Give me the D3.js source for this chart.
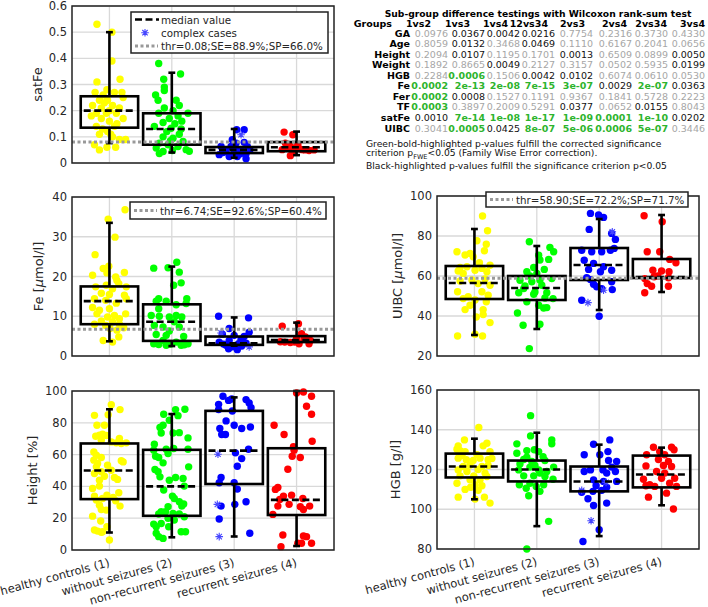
<!DOCTYPE html>
<html>
<head>
<meta charset="utf-8">
<title>iron parameters by group</title>
<style>
  body { margin: 0; background: #fff; }
  svg { font-family: "DejaVu Sans", sans-serif; }
  .grid line { stroke: #d9d9d9; stroke-width: 1.3; }
  .tick-lbl { font-size: 11.5px; fill: #262626; }
  .leg-lbl { font-size: 10.3px; fill: #262626; }
  .ax-lbl { font-size: 13px; fill: #262626; }
  .tbl { font-size: 9.5px; }
</style>
</head>
<body>
<div id="chart"></div>
<script src="https://cdn.jsdelivr.net/npm/d3@7"></script>
<script>

// groups shared by all panels
var groups = ["healthy controls (1)", "without seizures (2)", "non-recurrent seizures (3)", "recurrent seizures (4)"];
var groupColors = ["#ffff00", "#00ff00", "#0000ff", "#ff0000"];

// points are [jitter in category units, value]; boxes are [low whisker, q1, median, q3, high whisker]
var satFeTicks = [0, 0.1, 0.2, 0.3, 0.4, 0.5, 0.6];
var satFePts = [
  [[-0.20,0.53],[0.04,0.50],[0.04,0.39],[-0.20,0.31],[0.17,0.32],[-0.23,0.27],[-0.04,0.28],[0.08,0.27],[0.20,0.27],[0.22,0.25],[-0.16,0.24],[-0.03,0.24],[-0.27,0.22],[-0.13,0.21],[0.05,0.22],[0.16,0.21],[-0.21,0.19],[-0.05,0.19],[0.11,0.19],[-0.29,0.18],[0.22,0.17],[-0.13,0.17],[0.00,0.16],[-0.21,0.14],[0.08,0.14],[-0.11,0.13],[-0.03,0.12],[-0.16,0.11],[0.05,0.10],[0.16,0.09],[0.26,0.09],[-0.24,0.07],[-0.04,0.06],[-0.16,0.05],[0.10,0.06],[0.00,0.20],[-0.08,0.23],[0.12,0.15],[-0.10,0.26],[0.02,0.11]],
  [[-0.21,0.38],[-0.13,0.32],[0.14,0.34],[-0.12,0.29],[-0.12,0.277],[-0.26,0.26],[-0.22,0.24],[0.07,0.24],[0.12,0.22],[-0.12,0.21],[0.02,0.20],[0.26,0.19],[-0.21,0.19],[-0.04,0.17],[0.10,0.18],[-0.14,0.155],[0.16,0.16],[-0.28,0.14],[-0.01,0.133],[0.15,0.13],[-0.14,0.10],[0.02,0.095],[0.18,0.082],[-0.20,0.076],[-0.06,0.07],[0.10,0.063],[-0.25,0.057],[0.23,0.051],[0.01,0.048],[-0.14,0.044],[0.28,0.045],[-0.20,0.036],[0.05,0.15],[-0.08,0.12],[0.12,0.11],[-0.02,0.085]],
  [[0.04,0.127],[0.16,0.127],[-0.03,0.089],[0.03,0.076],[0.16,0.079],[-0.21,0.063],[-0.05,0.063],[0.21,0.063],[0.08,0.051],[-0.13,0.044],[0.00,0.038],[-0.24,0.032],[0.19,0.035],[-0.08,0.025],[0.05,0.025],[0.19,0.016],[-0.16,0.05],[0.12,0.045],[-0.02,0.055],[0.10,0.035],[-0.18,0.04],[0.25,0.05]],
  [[-0.20,0.118],[-0.06,0.108],[-0.18,0.076],[-0.10,0.063],[-0.23,0.051],[-0.04,0.057],[0.09,0.051],[0.20,0.048],[-0.10,0.028],[0.04,0.055],[-0.14,0.06],[0.02,0.07],[0.13,0.05],[-0.06,0.045],[0.28,0.05]]
];
var satFeStars = [[3, 0.11, 0.108]];
var satFeBox = [[0.076,0.135,0.20,0.255,0.50],[0.04,0.07,0.13,0.19,0.345],[0.02,0.038,0.05,0.061,0.13],[0.03,0.045,0.06,0.08,0.12]];
var satFeThr = 0.08;

var feTicks = [0, 10, 20, 30, 40];
var fePts = [
  [[0.25,36.8],[-0.02,34.4],[0.09,29.9],[-0.23,25.5],[-0.01,22.6],[-0.10,22.0],[0.24,21.0],[-0.04,20.9],[-0.27,20.3],[0.10,19.9],[0.12,19.0],[0.15,18.2],[-0.22,17.4],[-0.05,17.8],[0.05,16.9],[0.27,17.4],[-0.13,15.8],[0.00,15.5],[0.24,15.3],[-0.24,14.4],[-0.06,14.0],[0.11,13.3],[0.27,14.4],[-0.27,12.2],[-0.16,11.5],[0.00,11.9],[-0.20,10.6],[0.26,10.6],[0.08,10.2],[-0.03,9.8],[0.16,9.4],[-0.13,8.8],[0.05,8.6],[0.16,8.0],[-0.24,8.0],[-0.06,7.7],[0.23,7.1],[0.12,6.5],[0.01,6.9],[0.15,4.8],[-0.10,3.9],[0.05,3.5]],
  [[0.08,23.6],[-0.29,22.1],[-0.06,22.2],[0.12,21.1],[0.15,18.4],[0.03,17.8],[-0.21,14.4],[0.24,14.4],[-0.25,13.8],[-0.09,13.8],[0.07,12.9],[0.23,13.2],[-0.21,11.9],[-0.33,10.2],[-0.20,10.0],[-0.04,9.8],[0.07,10.2],[0.16,9.8],[0.04,8.6],[-0.28,7.7],[-0.14,7.3],[0.12,7.3],[-0.04,6.3],[-0.25,5.4],[-0.09,5.2],[0.19,4.9],[-0.29,3.1],[-0.21,2.9],[-0.09,2.7],[0.07,3.5],[0.15,2.7],[0.26,3.1],[-0.14,3.9],[0.20,2.8],[-0.02,3.0]],
  [[-0.25,10.0],[0.23,9.6],[-0.08,6.9],[0.24,6.0],[-0.19,5.5],[0.00,5.2],[0.16,4.9],[0.11,4.2],[-0.08,3.9],[-0.24,3.5],[0.07,3.1],[-0.13,2.7],[-0.03,2.3],[0.19,3.2],[0.05,1.6],[-0.09,1.8],[0.12,2.5],[-0.17,3.0]],
  [[-0.23,7.5],[0.03,8.1],[-0.19,3.5],[-0.26,3.6],[0.00,4.4],[0.08,5.6],[0.14,4.8],[0.22,3.9],[-0.03,3.5],[0.04,3.1],[0.20,3.1],[0.12,4.2],[-0.10,3.4]]
];
var feStars = [[3, -0.21, 5.8], [3, 0.24, 2.3]];
var feBox = [[3.7,8.0,13.8,17.5,33.5],[2.5,3.8,8.6,13.0,22.5],[2.6,2.8,3.2,4.9,9.7],[3.5,3.5,4.0,5.0,8.4]];
var feThr = 6.74;

var heightTicks = [0, 20, 40, 60, 80, 100];
var heightPts = [
  [[0.03,91.4],[0.17,88.3],[-0.24,84.7],[-0.02,85.1],[-0.20,78.5],[-0.08,78.5],[-0.22,71.5],[-0.16,72.2],[-0.11,72.8],[-0.05,72.0],[-0.13,69.0],[0.16,70.1],[0.03,68.0],[0.11,67.4],[0.27,67.4],[0.19,67.0],[-0.25,61.7],[-0.21,59.6],[-0.13,58.2],[-0.25,56.5],[-0.19,54.4],[-0.21,52.3],[-0.03,53.3],[0.19,56.1],[0.22,55.4],[-0.24,48.1],[-0.13,49.2],[0.03,50.2],[0.08,45.6],[0.13,44.4],[-0.16,43.9],[-0.08,46.4],[-0.27,38.7],[-0.16,40.2],[0.15,36.0],[-0.24,33.9],[-0.04,34.5],[0.06,33.1],[-0.21,31.4],[-0.11,32.4],[0.10,31.0],[-0.16,28.2],[0.17,27.6],[-0.13,25.5],[-0.05,25.1],[-0.27,21.3],[-0.14,18.2],[-0.24,12.6],[-0.19,11.9],[-0.11,11.5],[-0.04,14.6],[-0.13,11.1],[0.00,6.3]],
  [[0.06,88.3],[0.21,88.5],[-0.13,85.4],[0.10,84.5],[-0.04,81.6],[-0.14,78.5],[-0.19,77.0],[-0.17,73.6],[0.02,73.6],[0.12,73.8],[0.26,70.5],[-0.28,66.5],[-0.29,62.8],[-0.09,63.4],[0.03,63.8],[0.26,63.4],[-0.26,59.0],[-0.21,58.2],[-0.06,60.7],[-0.14,54.8],[0.27,52.3],[-0.27,50.6],[-0.22,49.2],[-0.19,46.0],[-0.04,43.9],[0.06,45.6],[0.18,45.0],[0.20,40.2],[-0.13,37.7],[0.01,33.9],[0.04,32.4],[0.12,30.3],[0.19,28.9],[0.16,27.6],[-0.06,27.2],[-0.17,24.1],[-0.10,24.1],[0.02,23.0],[-0.21,22.6],[0.12,22.6],[0.20,20.9],[-0.06,19.9],[0.04,18.8],[-0.29,16.3],[-0.17,16.7],[-0.25,14.6],[-0.05,14.6],[0.15,11.5],[0.22,11.5],[-0.25,10.5],[-0.21,8.4],[-0.14,7.3]],
  [[-0.18,96.7],[-0.09,94.1],[-0.04,95.0],[0.19,94.6],[0.24,92.5],[0.27,89.5],[-0.25,91.6],[-0.25,88.3],[-0.03,87.4],[-0.13,81.2],[0.00,78.5],[-0.23,76.4],[0.12,76.4],[0.26,77.4],[-0.20,72.6],[-0.14,72.6],[0.23,63.4],[0.02,61.1],[0.12,57.5],[0.05,52.7],[-0.21,45.6],[-0.24,42.3],[0.00,42.3],[0.05,38.3],[-0.21,27.6],[0.01,28.7],[0.19,30.3],[-0.24,19.5],[0.25,10.5]],
  [[0.11,99.4],[0.00,98.7],[0.24,96.7],[0.16,90.4],[0.24,85.4],[-0.36,78.5],[-0.20,72.6],[0.25,68.4],[-0.05,64.9],[-0.04,62.8],[0.06,58.2],[-0.07,59.0],[-0.14,50.8],[-0.30,39.3],[-0.34,38.1],[-0.08,34.5],[-0.21,33.9],[-0.27,31.8],[0.10,32.4],[-0.12,28.7],[-0.30,27.6],[0.06,27.2],[0.21,27.6],[0.11,25.5],[-0.38,22.4],[-0.22,9.4],[0.11,8.8],[0.16,8.4],[0.02,4.2],[0.08,4.2],[0.24,4.2],[-0.25,2.1]]
];
var heightStars = [[3, -0.26, 60.2], [3, -0.27, 28.7], [3, -0.24, 8.4]];
var heightBox = [[11,32,50,67,88.5],[8,21.5,40,63,85.5],[8.5,41.5,62.5,87.5,96],[2.5,22,31.5,64,100]];

var uibcTicks = [20, 40, 60, 80, 100];
var uibcPts = [
  [[0.13,90.0],[0.21,82.6],[-0.28,72.1],[0.04,77.6],[0.19,75.9],[0.16,72.6],[-0.07,71.3],[-0.02,69.6],[-0.15,70.5],[0.08,66.6],[-0.23,64.3],[-0.12,64.6],[0.01,62.9],[0.12,63.8],[0.25,65.4],[0.20,62.1],[-0.18,61.3],[-0.26,62.5],[-0.27,52.1],[0.06,56.2],[0.25,55.4],[-0.10,49.6],[0.12,52.1],[0.22,50.4],[-0.18,48.7],[0.01,48.0],[0.19,47.1],[-0.07,45.4],[-0.15,43.2],[0.14,43.2],[0.03,39.5],[0.14,40.7],[0.25,36.7],[-0.27,30.0],[0.01,30.9],[0.13,30.0],[-0.04,58.0],[-0.23,57.5],[0.17,58.5]],
  [[-0.12,77.1],[0.21,74.3],[0.27,72.1],[0.03,70.4],[0.19,68.3],[0.05,68.0],[-0.05,64.3],[0.12,63.3],[-0.16,62.1],[0.00,61.3],[0.24,58.7],[-0.27,57.9],[-0.08,57.1],[0.08,55.4],[-0.21,53.7],[-0.29,51.6],[-0.05,50.9],[0.16,51.6],[0.26,48.7],[-0.16,47.1],[0.03,45.4],[0.16,44.2],[0.11,44.0],[-0.31,41.5],[0.05,35.9],[-0.22,35.4],[-0.12,23.7],[-0.11,60.0],[0.05,58.0],[-0.19,55.0],[-0.03,52.0],[0.13,49.0]],
  [[-0.14,91.3],[-0.01,90.5],[0.07,89.3],[-0.16,83.3],[0.20,81.3],[0.26,78.3],[-0.28,72.9],[-0.12,72.1],[0.04,72.1],[0.18,72.9],[0.24,73.8],[-0.24,67.9],[-0.09,66.3],[0.07,64.6],[-0.17,63.3],[0.20,62.9],[-0.20,59.2],[0.02,62.1],[-0.14,58.2],[-0.09,55.9],[0.20,57.1],[-0.04,54.6],[0.04,53.7],[0.21,53.2],[-0.28,47.9],[0.00,39.9]],
  [[-0.28,90.1],[0.01,87.1],[-0.23,72.1],[-0.03,72.1],[0.13,68.3],[0.23,66.6],[-0.14,62.9],[0.00,62.5],[0.12,62.1],[-0.27,58.7],[-0.12,59.6],[-0.23,56.2],[0.11,59.1],[-0.06,60.0],[-0.16,54.9],[0.11,54.9],[-0.27,51.6]]
];
var uibcStars = [[3, 0.21, 82.1], [3, -0.18, 46.7], [3, 0.07, 52.9]];
var uibcBox = [[30.5,48.5,56.5,65,83.5],[33.5,48,54,60,75],[43,58,65.5,74,88.5],[52,59,59.5,68.5,90.5]];
var uibcThr = 58.90;

var hgbTicks = [80, 100, 120, 140, 160];
var hgbPts = [
  [[0.07,141.1],[-0.16,134.9],[-0.26,131.9],[-0.28,130.2],[-0.23,129.5],[-0.15,129.0],[0.20,133.2],[0.14,131.9],[0.25,129.0],[0.04,127.5],[-0.26,125.7],[-0.13,124.9],[-0.02,124.5],[0.09,125.7],[0.22,124.9],[0.28,125.5],[-0.18,121.5],[-0.07,122.3],[0.12,121.5],[-0.26,119.8],[-0.12,119.0],[0.17,118.2],[-0.23,116.8],[-0.01,116.8],[0.20,116.5],[0.09,114.8],[-0.07,114.8],[-0.28,113.1],[0.01,112.3],[-0.06,111.1],[0.12,111.8],[0.06,109.5],[-0.26,106.1],[0.01,105.1],[0.16,106.1],[0.25,103.1],[-0.20,127.0],[0.06,120.0],[0.22,122.0],[-0.15,110.0]],
  [[-0.10,147.1],[-0.10,136.9],[-0.32,132.9],[0.24,134.9],[0.24,132.9],[-0.32,128.2],[-0.16,129.5],[-0.04,129.9],[0.03,129.0],[0.10,126.5],[-0.16,126.2],[-0.27,122.8],[-0.08,124.0],[0.13,124.5],[-0.29,119.8],[-0.11,121.2],[0.03,119.8],[0.27,121.2],[0.05,118.2],[-0.21,116.8],[-0.05,116.8],[0.13,116.5],[-0.28,112.3],[-0.11,113.1],[0.11,112.3],[0.26,115.1],[-0.17,110.6],[-0.01,111.5],[-0.13,106.8],[0.05,109.0],[0.19,93.9],[-0.16,80.0],[-0.03,122.0],[-0.21,125.0],[0.16,119.0]],
  [[0.17,134.9],[-0.09,132.7],[0.14,129.0],[0.01,127.4],[-0.24,127.4],[0.15,124.5],[0.28,124.0],[0.20,121.2],[-0.14,119.8],[0.06,119.8],[0.26,119.0],[0.12,118.2],[-0.24,119.0],[-0.09,114.8],[0.07,114.0],[0.28,114.0],[-0.05,111.8],[0.12,111.1],[-0.10,109.0],[-0.28,108.5],[0.04,109.5],[-0.18,105.3],[0.12,103.1],[-0.09,101.9],[0.00,89.7],[-0.26,83.8]],
  [[-0.13,131.2],[0.16,131.2],[-0.24,127.4],[-0.03,129.0],[0.05,127.4],[0.20,129.9],[0.11,124.0],[-0.25,121.8],[0.16,121.5],[-0.08,119.0],[0.05,118.2],[0.21,115.6],[-0.29,115.1],[-0.19,112.3],[0.00,115.6],[0.24,111.5],[-0.11,111.5],[-0.25,111.8],[0.13,113.1],[0.08,108.1],[-0.21,106.1],[0.19,100.1],[-0.05,125.0],[0.03,122.0]]
];
var hgbStars = [[3, -0.28, 109.5], [3, -0.13, 94.2], [3, 0.11, 113.5]];
var hgbBox = [[105,116,121.5,128,135.5],[91.5,114,120,124.5,138.5],[86.5,109,114,121.5,132.5],[102,111,117.5,127,131]];

// Wilcoxon rank-sum p-values
var pvalCols = ["1vs2", "1vs3", "1vs4", "12vs34", "2vs3", "2vs4", "2vs34", "3vs4"];
var pvalRows = ["GA", "Age", "Height", "Weight", "HGB", "Fe", "Fer", "TF", "satFe", "UIBC"];
var pvalues = [
  ["0.0976","0.0367","0.0042","0.0216","0.7754","0.2316","0.3730","0.4330"],
  ["0.8059","0.0132","0.3468","0.0469","0.1110","0.6167","0.2041","0.0656"],
  ["0.2094","0.0107","0.1195","0.1701","0.0013","0.6509","0.0899","0.0050"],
  ["0.1892","0.8665","0.0049","0.2127","0.3157","0.0502","0.5935","0.0199"],
  ["0.2284","0.0006","0.1506","0.0042","0.0102","0.6074","0.0610","0.0530"],
  ["0.0002","2e-13","2e-08","7e-15","3e-07","0.0029","2e-07","0.0363"],
  ["0.0002","0.0008","0.1527","0.1191","0.9367","0.1841","0.5728","0.2223"],
  ["0.0003","0.3897","0.2009","0.5291","0.0377","0.0652","0.0155","0.8043"],
  ["0.0010","7e-14","1e-08","1e-17","1e-09","0.0001","1e-10","0.0202"],
  ["0.3041","0.0005","0.0425","8e-07","5e-06","0.0006","5e-07","0.3446"]
];

var W = 708, H = 607;
var svg = d3.select("#chart").append("svg")
    .attr("width", W)
    .attr("height", H);

var panels = [
  {pts: satFePts, stars: satFeStars, box: satFeBox, ticks: satFeTicks, thr: satFeThr,
   x: [72, 334], y: [163, 6], label: ["satFe"], labelX: 42,
   legend: {x: 131, y: 12, w: 197, h: 41, items: ["median", "star", "thr"], text: "thr=0.08;SE=88.9%;SP=66.0%"}},
  {pts: fePts, stars: feStars, box: feBox, ticks: feTicks, thr: feThr,
   x: [72, 334], y: [356, 197], label: ["Fe [", "μ", "mol/l]"], labelX: 43,
   legend: {x: 130, y: 202, w: 196, h: 17, items: ["thr"], text: "thr=6.74;SE=92.6%;SP=60.4%"}},
  {pts: heightPts, stars: heightStars, box: heightBox, ticks: heightTicks, thr: null,
   x: [72, 334], y: [550, 391], label: ["Height [%]"], labelX: 37, xlabels: true},
  {pts: uibcPts, stars: uibcStars, box: uibcBox, ticks: uibcTicks, thr: uibcThr,
   x: [437, 699], y: [356, 196], label: ["UIBC [", "μ", "mol/l]"], labelX: 402,
   legend: {x: 486, y: 192, w: 202, h: 15, items: ["thr"], text: "thr=58.90;SE=72.2%;SP=71.7%"}},
  {pts: hgbPts, stars: hgbStars, box: hgbBox, ticks: hgbTicks, thr: null,
   x: [437, 699], y: [549, 390], label: ["HGB [g/l]"], labelX: 400, xlabels: true}
];

panels.forEach(drawPanel);
drawTable();

function starPath(cx, cy, r) {
  var d = "";
  for (var k = 0; k < 4; k++) {
    var a = k * Math.PI / 4;
    d += "M" + (cx - r * Math.cos(a)) + "," + (cy - r * Math.sin(a)) +
         "L" + (cx + r * Math.cos(a)) + "," + (cy + r * Math.sin(a));
  }
  return d;
}

function drawPanel(p) {
  var x = d3.scaleLinear().domain([0.4, 4.6]).range(p.x);
  var y = d3.scaleLinear().domain(d3.extent(p.ticks)).range(p.y);
  var g = svg.append("g");
  var half = 0.46, cap = 0.055;

  // grid
  var grid = g.append("g").attr("class", "grid");
  grid.selectAll(".h").data(p.ticks).enter().append("line")
      .attr("x1", p.x[0]).attr("x2", p.x[1])
      .attr("y1", d => y(d)).attr("y2", d => y(d));
  grid.selectAll(".v").data([1, 2, 3, 4]).enter().append("line")
      .attr("x1", d => x(d)).attr("x2", d => x(d))
      .attr("y1", p.y[0]).attr("y2", p.y[1]);

  // jittered points
  p.pts.forEach(function (pts, gi) {
    g.append("g").selectAll("circle").data(pts).enter().append("circle")
        .attr("cx", d => x(gi + 1 + d[0]))
        .attr("cy", d => y(d[1]))
        .attr("r", 3.7)
        .attr("fill", groupColors[gi]);
  });

  // complex cases
  g.append("g").selectAll("path").data(p.stars).enter().append("path")
      .attr("d", d => starPath(x(d[0] + d[1]), y(d[2]), 3.8))
      .attr("stroke", "#4646ff")
      .attr("stroke-width", 1.1)
      .attr("fill", "none");

  // boxes
  var bx = g.append("g").attr("stroke", "#000").attr("fill", "none").attr("stroke-width", 2.6);
  p.box.forEach(function (b, gi) {
    var c = gi + 1;
    bx.append("line").attr("x1", x(c)).attr("x2", x(c)).attr("y1", y(b[3])).attr("y2", y(b[4]));
    bx.append("line").attr("x1", x(c)).attr("x2", x(c)).attr("y1", y(b[1])).attr("y2", y(b[0]));
    bx.append("line").attr("x1", x(c - cap)).attr("x2", x(c + cap)).attr("y1", y(b[4])).attr("y2", y(b[4]));
    bx.append("line").attr("x1", x(c - cap)).attr("x2", x(c + cap)).attr("y1", y(b[0])).attr("y2", y(b[0]));
    bx.append("rect")
        .attr("x", x(c - half)).attr("width", x(c + half) - x(c - half))
        .attr("y", y(b[3])).attr("height", y(b[1]) - y(b[3]));
    bx.append("line").attr("x1", x(c - half) + 3).attr("x2", x(c + half) - 3)
        .attr("y1", y(b[2])).attr("y2", y(b[2]))
        .attr("stroke-dasharray", "7,3.5");
  });

  // threshold
  if (p.thr !== null) {
    g.append("line")
        .attr("x1", p.x[0]).attr("x2", p.x[1])
        .attr("y1", y(p.thr)).attr("y2", y(p.thr))
        .attr("stroke", "#999").attr("stroke-width", 3)
        .attr("stroke-dasharray", "3,2.5");
  }

  // frame
  g.append("rect")
      .attr("x", p.x[0]).attr("y", p.y[1])
      .attr("width", p.x[1] - p.x[0]).attr("height", p.y[0] - p.y[1])
      .attr("fill", "none").attr("stroke", "#222").attr("stroke-width", 1.5);

  // y tick labels
  g.append("g").selectAll("text").data(p.ticks).enter().append("text")
      .attr("class", "tick-lbl")
      .attr("x", p.x[0] - 5)
      .attr("y", d => y(d) + 4)
      .attr("text-anchor", "end")
      .text(d => d3.format("~g")(d));

  // y axis label
  var lbl = g.append("text")
      .attr("class", "ax-lbl")
      .attr("text-anchor", "middle")
      .attr("transform", "translate(" + p.labelX + "," + ((p.y[0] + p.y[1]) / 2) + ") rotate(-90)");
  p.label.forEach(function (t, i) {
    lbl.append("tspan").style("font-style", t === "μ" ? "italic" : null).text(t);
  });

  // x tick labels
  if (p.xlabels) {
    g.append("g").selectAll("text").data(groups).enter().append("text")
        .attr("class", "tick-lbl")
        .attr("text-anchor", "end")
        .attr("transform", (d, i) => "translate(" + (x(i + 1) + 1) + "," + (p.y[0] + 16) + ") rotate(-15)")
        .text(d => d);
  }

  if (p.legend) drawLegend(g, p.legend);
}

function drawLegend(g, L) {
  var lg = g.append("g");
  lg.append("rect")
      .attr("x", L.x).attr("y", L.y).attr("width", L.w).attr("height", L.h)
      .attr("fill", "#fff").attr("stroke", "#222").attr("stroke-width", 1.5);
  var rowH = 13.2;
  L.items.forEach(function (it, i) {
    var cy = L.y + (L.items.length === 1 ? L.h / 2 : 7.5 + i * rowH);
    if (it === "median") {
      lg.append("line").attr("x1", L.x + 4).attr("x2", L.x + 28).attr("y1", cy).attr("y2", cy)
          .attr("stroke", "#000").attr("stroke-width", 2.6).attr("stroke-dasharray", "7,3.5");
      lg.append("text").attr("x", L.x + 30).attr("y", cy + 4).attr("class", "leg-lbl").text("median value");
    } else if (it === "star") {
      lg.append("path").attr("d", starPath(L.x + 14, cy, 3.8))
          .attr("stroke", "#4646ff").attr("stroke-width", 1.1);
      lg.append("text").attr("x", L.x + 30).attr("y", cy + 4).attr("class", "leg-lbl").text("complex cases");
    } else {
      lg.append("line").attr("x1", L.x + 4).attr("x2", L.x + 27).attr("y1", cy).attr("y2", cy)
          .attr("stroke", "#999").attr("stroke-width", 3).attr("stroke-dasharray", "3,2.5");
      lg.append("text").attr("x", L.x + 30).attr("y", cy + 4).attr("class", "leg-lbl").text(L.text);
    }
  });
}

function drawTable() {
  var t = svg.append("g").attr("class", "tbl");
  var bonf = 0.05 / (pvalRows.length * pvalCols.length);
  var valRight = [448, 485, 520, 555, 593, 632, 668, 705];
  var headRight = [431, 470, 508, 548, 585, 627, 667, 705];
  var rowY = d3.scaleLinear().domain([0, 9]).range([36.5, 131.5]);

  t.append("text").attr("x", 538).attr("y", 17).attr("text-anchor", "middle")
      .style("font-weight", "bold").style("font-size", "9.2px").text("Sub-group difference testings with Wilcoxon rank-sum test");

  t.append("text").attr("x", 392).attr("y", 26.5).attr("text-anchor", "end")
      .style("font-weight", "bold").text("Groups");
  t.selectAll(".hd").data(pvalCols).enter().append("text")
      .attr("x", (d, i) => headRight[i]).attr("y", 26.5).attr("text-anchor", "end")
      .style("font-weight", "bold").text(d => d);

  pvalRows.forEach(function (r, ri) {
    t.append("text").attr("x", 410).attr("y", rowY(ri)).attr("text-anchor", "end")
        .style("font-weight", "bold").text(r);
    t.selectAll(".v" + ri).data(pvalues[ri]).enter().append("text")
        .attr("x", (d, i) => valRight[i]).attr("y", rowY(ri)).attr("text-anchor", "end")
        .attr("fill", d => +d < bonf ? "#2db42d" : (+d < 0.05 ? "#111" : "#a6a6a6"))
        .style("font-weight", d => +d < bonf ? "bold" : null)
        .text(d => d);
  });

  var note = t.append("g").style("font-size", "9.2px").attr("fill", "#111");
  note.append("text").attr("x", 366).attr("y", 146.5).text("Green-bold-highlighted p-values fulfill the corrected significance");
  var l2 = note.append("text").attr("x", 366).attr("y", 156);
  l2.append("tspan").text("criterion p");
  l2.append("tspan").attr("dy", 2.5).style("font-size", "6.5px").text("FWE");
  l2.append("tspan").attr("dy", -2.5).text("<0.05 (Family Wise Error correction).");
  note.append("text").attr("x", 366).attr("y", 168.5).text("Black-highlighted p-values fulfill the significance criterion p<0.05");
}

</script>
</body>
</html>
